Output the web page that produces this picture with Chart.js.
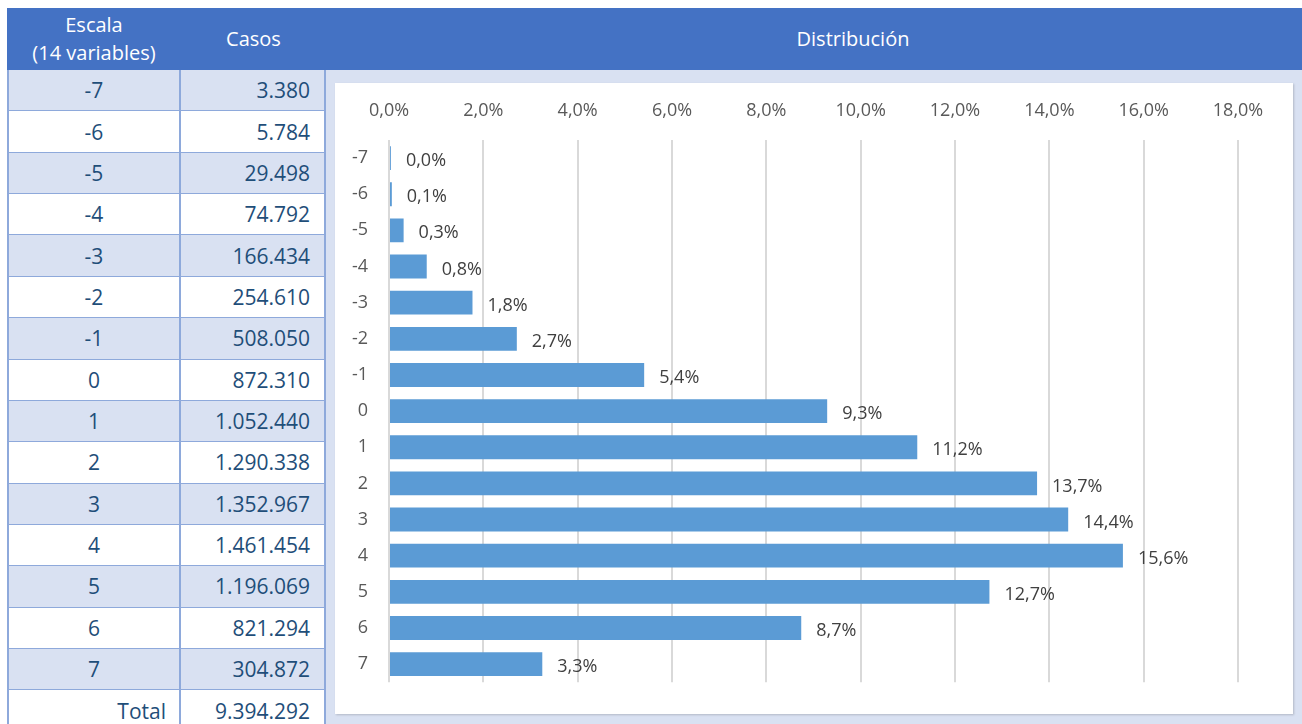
<!DOCTYPE html>
<html>
<head>
<meta charset="utf-8">
<script src="https://cdn.jsdelivr.net/npm/chart.js@4.4.1/dist/chart.umd.min.js"></script>
<style>
  body { margin: 0; width: 1302px; height: 724px; overflow: hidden; background: #fff; position: relative; font-family: "Open Sans", sans-serif; }
  .abs { position: absolute; box-sizing: border-box; }
  .head { background: #4472C4; color: #fff; font-size: 20px; line-height: 28px; display: flex; align-items: center; justify-content: center; text-align: center; }
  .cell { display: flex; align-items: center; font-size: 21px; color: #1F4E79; border-right: 2px solid #8EA9DB; border-bottom: 2px solid #8EA9DB; }
  #chartBox { left: 335px; top: 83px; width: 958px; height: 631px; background: #fff; box-shadow: 1px 1px 2px rgba(0,0,0,0.18); }
</style>
</head>
<body>
<div id="table"></div>
<div class="abs" style="left:326px; top:70px; width:976px; height:654px; background:#D9E1F2;"></div>
<div class="abs" id="chartBox"><canvas id="distChart" width="958" height="631"></canvas></div>

<script>
const escala = ['-7', '-6', '-5', '-4', '-3', '-2', '-1', '0', '1', '2', '3', '4', '5', '6', '7'];
const casos = [3380, 5784, 29498, 74792, 166434, 254610, 508050, 872310, 1052440, 1290338, 1352967, 1461454, 1196069, 821294, 304872];
const totalCasos = 9394292;
// porcentaje sobre el total (%)
const distribucion = [0.04, 0.06, 0.31, 0.80, 1.77, 2.71, 5.41, 9.29, 11.20, 13.74, 14.40, 15.56, 12.73, 8.74, 3.25];
const headers = ['Escala<br>(14 variables)', 'Casos', 'Distribución'];

const fmtMiles = (n) => String(n).replace(/\B(?=(\d{3})+(?!\d))/g, '.');
const fmtPct = (v) => v.toFixed(1).replace('.', ',') + '%';

// tabla de la izquierda
const table = document.getElementById('table');
let html = '';
html += `<div class="abs head" style="left:7px;top:8px;width:174px;height:62px;">${headers[0]}</div>`;
html += `<div class="abs head" style="left:181px;top:8px;width:145px;height:62px;">${headers[1]}</div>`;
html += `<div class="abs head" style="left:326px;top:8px;width:1054px;height:62px;">${headers[2]}</div>`;

const rowH = 41.36;
const rows = escala.map((e, i) => [e, fmtMiles(casos[i])]);
rows.push(['Total', fmtMiles(totalCasos)]);
rows.forEach((r, i) => {
    let top = 70 + i * rowH;
    let bg = i % 2 == 0 ? '#D9E1F2' : '#fff';
    if (r[0] == 'Total') bg = '#fff';
    let just0 = r[0] == 'Total' ? 'flex-end;padding-right:13px' : 'center';
    html += `<div class="abs cell" style="left:7px;top:${top}px;width:174px;height:${rowH + 1}px;background:${bg};border-left:2px solid #8EA9DB;justify-content:${just0};">${r[0]}</div>`;
    html += `<div class="abs cell" style="left:181px;top:${top}px;width:145px;height:${rowH + 1}px;background:${bg};justify-content:flex-end;padding-right:14px;">${r[1]}</div>`;
});
table.innerHTML = html;

// etiquetas de valor a la derecha de cada barra
const valueLabels = {
    id: 'valueLabels',
    afterDatasetsDraw(chart) {
        const ctx = chart.ctx;
        const meta = chart.getDatasetMeta(0);
        ctx.save();
        ctx.font = '18px "Open Sans"';
        ctx.fillStyle = '#404040';
        ctx.textAlign = 'left';
        ctx.textBaseline = 'middle';
        meta.data.forEach((bar, i) => {
            ctx.fillText(fmtPct(distribucion[i]), bar.x + 15, bar.y + 3);
        });
        ctx.restore();
    }
};

const config = {
    type: 'bar',
    data: {
        labels: escala,
        datasets: [{
            label: 'Distribución',
            data: distribucion,
            backgroundColor: '#5B9BD5',
            borderWidth: 0,
            categoryPercentage: 1,
            barPercentage: 0.66
        }]
    },
    options: {
        indexAxis: 'y',
        responsive: false,
        animation: false,
        devicePixelRatio: 1,
        layout: { padding: { top: 0, left: 0, right: 55, bottom: 28 } },
        plugins: {
            legend: { display: false },
            tooltip: { enabled: false }
        },
        scales: {
            x: {
                type: 'linear',
                position: 'top',
                min: 0,
                max: 18,
                ticks: {
                    stepSize: 2,
                    padding: 18,
                    color: '#595959',
                    font: { family: 'Open Sans', size: 18 },
                    callback: (v) => fmtPct(v)
                },
                grid: { color: '#D9D9D9', lineWidth: 2, drawTicks: false },
                border: { display: false },
                afterFit: (scale) => { scale.height = 57; }
            },
            y: {
                ticks: {
                    padding: 21,
                    color: '#595959',
                    font: { family: 'Open Sans', size: 18 }
                },
                grid: { display: false, drawTicks: false },
                border: { display: false },
                afterFit: (scale) => { scale.width = 54; }
            }
        }
    },
    plugins: [valueLabels]
};

const chart = new Chart(document.getElementById('distChart'), config);
</script>
</body>
</html>
